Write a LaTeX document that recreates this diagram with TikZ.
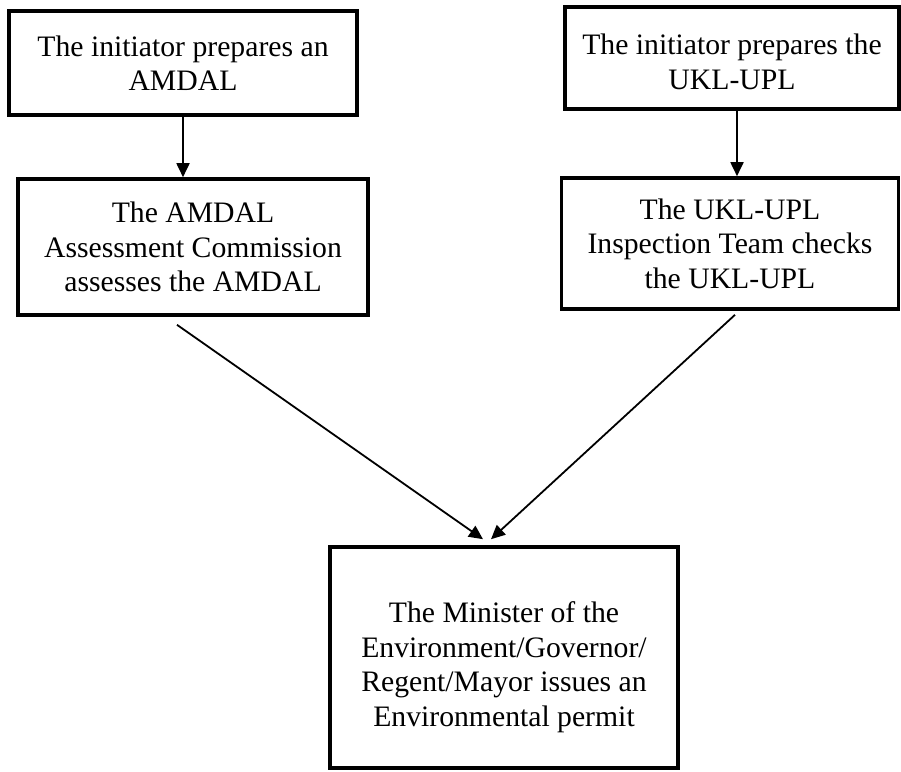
\documentclass[tikz,border=0pt]{standalone}
\usepackage{fontspec}
\setmainfont{Liberation Serif}
\usetikzlibrary{arrows.meta,calc}
\begin{document}
\begin{tikzpicture}[x=1pt,y=-1pt,
  box/.style={draw=black,line width=3.6pt,rectangle,inner sep=0pt,align=center,
    font=\fontsize{29.7}{34.5}\selectfont},
  txt/.style={inner sep=0pt,align=center,font=\fontsize{29.7}{34.5}\selectfont},
  arr/.style={line width=1.8pt,-{Triangle[length=14pt,width=13pt]}}]
\useasboundingbox (0,0) rectangle (901,771);
\node[box,minimum width=348pt,minimum height=104pt] (box1) at (183,63) {The initiator prepares an\\AMDAL};
\node[box,minimum width=334pt,minimum height=102pt] (box2) at (732,58) {};
\node[txt] (t2) at (732,62) {The initiator prepares the\\UKL-UPL};
\node[box,minimum width=350pt,minimum height=136pt] (box3) at (193,247) {The AMDAL\\Assessment Commission\\assesses the AMDAL};
\node[box,minimum width=337pt,minimum height=131pt] (box4) at (730,243.5) {The UKL-UPL\\Inspection Team checks\\the UKL-UPL};
\node[box,minimum width=348pt,minimum height=221pt] (box5) at (504,657.5) {};
\node[txt] (t5) at (504,667) {The Minister of the\\Environment/Governor/\\Regent/Mayor issues an\\Environmental permit};
\draw[arr] (box1.south) -- (box1.south |- box3.north);
\draw[arr] ($(box2.south)+(5,0)$) -- ($(box2.south |- box4.north)+(5,0)$);
\coordinate (s1) at ($(box3.south)+(-16,8)$);
\coordinate (e1) at ($(box5.north)+(-21,-6)$);
\coordinate (s2) at ($(box4.south)+(5,4)$);
\coordinate (e2) at ($(box5.north)+(-13,-6)$);
\draw[arr] (s1) -- (e1);
\draw[arr] (s2) -- (e2);
\end{tikzpicture}
\end{document}
